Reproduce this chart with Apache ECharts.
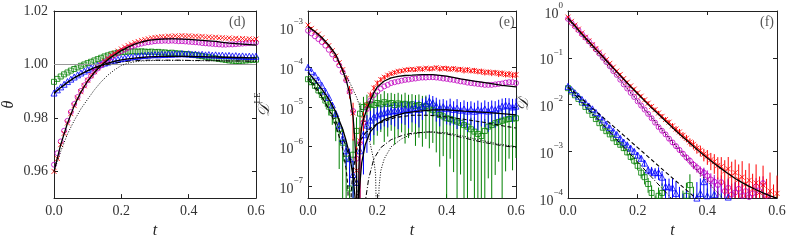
<!DOCTYPE html>
<html><head><meta charset="utf-8">
<script src="https://cdn.jsdelivr.net/npm/echarts@6/dist/echarts.min.js"></script>
<style>html,body{margin:0;padding:0;background:#fff}#c{width:789px;height:244px}</style>
</head><body><div id="c"></div>
<script>
// ---------- time grids ----------
const T = [0,0.01,0.02,0.03,0.04,0.05,0.06,0.07,0.08,0.09,0.10,0.11,0.12,0.13,0.14,0.15,0.16,0.17,0.18,0.19,0.20,0.21,0.22,0.23,0.24,0.25,0.26,0.27,0.28,0.29,0.30,0.31,0.32,0.33,0.34,0.35,0.36,0.37,0.38,0.39,0.40,0.41,0.42,0.43,0.44,0.45,0.46,0.47,0.48,0.49,0.50,0.51,0.52,0.53,0.54,0.55,0.56,0.57,0.58,0.59,0.60];
const T2 = [0,0.02,0.04,0.06,0.08,0.10,0.12,0.14,0.16,0.18,0.20,0.22,0.24,0.26,0.28,0.30,0.32,0.34,0.36,0.38,0.40,0.42,0.44,0.46,0.48,0.50,0.52,0.54,0.56,0.58,0.60];
const xTicks = [0.0,0.2,0.4,0.6];

// ---------- panel (d): theta ----------
const dRed = [0.9600,0.9648,0.9700,0.9742,0.9781,0.9816,0.9846,0.9874,0.9898,0.9920,0.9941,0.9958,0.9973,0.9988,1.0000,1.0012,1.0023,1.0034,1.0042,1.0050,1.0058,1.0065,1.0071,1.0076,1.0082,1.0086,1.0090,1.0093,1.0096,1.0099,1.0101,1.0102,1.0104,1.0103,1.0106,1.0105,1.0107,1.0105,1.0108,1.0106,1.0107,1.0105,1.0106,1.0104,1.0105,1.0102,1.0103,1.0101,1.0102,1.0099,1.0100,1.0098,1.0099,1.0096,1.0098,1.0095,1.0097,1.0094,1.0096,1.0093,1.0095];
const dMag = [0.9625,0.9668,0.9712,0.9752,0.9789,0.9822,0.9852,0.9878,0.9901,0.9922,0.9941,0.9957,0.9972,0.9985,0.9997,1.0008,1.0018,1.0027,1.0035,1.0043,1.0050,1.0056,1.0062,1.0067,1.0071,1.0075,1.0078,1.0081,1.0083,1.0085,1.0087,1.0088,1.0088,1.0089,1.0088,1.0089,1.0088,1.0087,1.0087,1.0086,1.0085,1.0084,1.0083,1.0082,1.0080,1.0079,1.0078,1.0077,1.0076,1.0075,1.0074,1.0074,1.0075,1.0075,1.0076,1.0077,1.0078,1.0079,1.0080,1.0081,1.0082];
const dGreen = [0.9935,0.9946,0.9955,0.9963,0.9970,0.9977,0.9983,0.9989,0.9995,1.0000,1.0005,1.0010,1.0015,1.0020,1.0025,1.0030,1.0034,1.0038,1.0041,1.0044,1.0046,1.0047,1.0048,1.0049,1.0049,1.0048,1.0049,1.0048,1.0047,1.0048,1.0046,1.0047,1.0045,1.0045,1.0043,1.0044,1.0042,1.0041,1.0040,1.0039,1.0038,1.0036,1.0035,1.0033,1.0031,1.0029,1.0027,1.0025,1.0023,1.0021,1.0019,1.0017,1.0015,1.0014,1.0013,1.0013,1.0014,1.0015,1.0016,1.0017,1.0018];
const dBlue = [0.9893,0.9905,0.9916,0.9926,0.9936,0.9945,0.9953,0.9961,0.9968,0.9975,0.9981,0.9987,0.9992,0.9997,1.0001,1.0005,1.0009,1.0013,1.0016,1.0019,1.0022,1.0024,1.0026,1.0028,1.0030,1.0031,1.0033,1.0034,1.0035,1.0036,1.0037,1.0036,1.0038,1.0037,1.0039,1.0038,1.0040,1.0039,1.0041,1.0039,1.0040,1.0038,1.0039,1.0037,1.0038,1.0036,1.0037,1.0035,1.0036,1.0034,1.0035,1.0033,1.0034,1.0032,1.0033,1.0031,1.0032,1.0030,1.0031,1.0030,1.0031];
const dLine1 = [0.9600,0.9700,0.9780,0.9845,0.9897,0.9938,0.9970,0.9996,1.0018,1.0036,1.0052,1.0065,1.0076,1.0084,1.0090,1.0093,1.0095,1.0096,1.0096,1.0095,1.0094,1.0092,1.0090,1.0088,1.0086,1.0083,1.0080,1.0078,1.0076,1.0074,1.0072];
const dLine2 = [0.9893,0.9914,0.9933,0.9950,0.9964,0.9977,0.9988,0.9997,1.0005,1.0012,1.0017,1.0021,1.0024,1.0026,1.0028,1.0029,1.0030,1.0030,1.0030,1.0030,1.0030,1.0029,1.0029,1.0028,1.0028,1.0027,1.0027,1.0026,1.0026,1.0025,1.0025];
const dDashDot = [0.9890,0.9912,0.9932,0.9950,0.9964,0.9976,0.9986,0.9994,1.0000,1.0005,1.0009,1.0012,1.0014,1.0015,1.0016,1.0016,1.0016,1.0016,1.0016,1.0016,1.0015,1.0015,1.0015,1.0014,1.0014,1.0014,1.0013,1.0013,1.0013,1.0012,1.0012];
const dDotted = [0.9600,0.9675,0.9740,0.9790,0.9834,0.9870,0.9905,0.9935,0.9960,0.9980,0.9996,1.0005,1.0010,1.0013,1.0014,1.0015,1.0015,1.0015,1.0015,1.0015,1.0015,1.0014,1.0014,1.0014,1.0014,1.0013,1.0013,1.0013,1.0013,1.0013,1.0012];
const dRef = 1.00;

// ---------- panel (e): D^LE ----------
const eRed = [1.15e-3,9.5e-4,7.9e-4,6.8e-4,5.5e-4,4.4e-4,3.5e-4,2.6e-4,1.9e-4,1.3e-4,8.7e-5,5.2e-5,2.5e-5,7.1e-6,2.5e-7,1.4e-6,5.0e-6,1.1e-5,2.0e-5,3.0e-5,4.0e-5,4.9e-5,5.6e-5,6.3e-5,6.9e-5,7.4e-5,7.9e-5,8.1e-5,8.5e-5,8.7e-5,8.9e-5,8.7e-5,9.3e-5,8.9e-5,9.5e-5,9.1e-5,9.3e-5,9.8e-5,9.1e-5,9.5e-5,9.3e-5,8.9e-5,9.3e-5,8.7e-5,8.9e-5,8.3e-5,8.7e-5,8.1e-5,8.3e-5,7.8e-5,7.9e-5,7.4e-5,7.6e-5,7.2e-5,7.4e-5,6.9e-5,7.1e-5,6.6e-5,6.8e-5,6.3e-5,6.5e-5];
const eRedErr = [0.06,0.06,0.07,0.07,0.07,0.08,0.08,0.09,0.1,0.12,0.15,0.2,0.35,0.8,3,1.2,0.5,0.3,0.22,0.18,0.16,0.15,0.14,0.14,0.13,0.13,0.13,0.12,0.13,0.12,0.13,0.12,0.14,0.13,0.12,0.14,0.13,0.12,0.14,0.13,0.15,0.14,0.13,0.15,0.14,0.16,0.15,0.14,0.16,0.15,0.17,0.16,0.15,0.17,0.16,0.18,0.17,0.16,0.18,0.17,0.18];
const eMag = [8.3e-4,7.1e-4,6.0e-4,5.1e-4,4.3e-4,3.5e-4,2.75e-4,2.1e-4,1.6e-4,1.12e-4,7.6e-5,4.7e-5,2.4e-5,7.9e-6,5.0e-7,1.26e-6,4.0e-6,8.9e-6,1.45e-5,2.0e-5,2.45e-5,2.9e-5,3.3e-5,3.6e-5,4.0e-5,4.2e-5,4.4e-5,4.6e-5,4.8e-5,4.9e-5,5.1e-5,5.2e-5,5.4e-5,5.5e-5,5.5e-5,5.6e-5,5.6e-5,5.5e-5,5.4e-5,5.2e-5,5.1e-5,4.9e-5,4.8e-5,4.6e-5,4.4e-5,4.3e-5,4.1e-5,4.0e-5,3.9e-5,3.8e-5,3.7e-5,3.6e-5,3.6e-5,3.6e-5,3.7e-5,3.8e-5,3.9e-5,4.1e-5,4.2e-5,4.2e-5,4.0e-5];
const eBlue = [1.0e-4,7.9e-5,6.3e-5,4.8e-5,3.5e-5,2.5e-5,1.74e-5,1.12e-5,6.8e-6,3.5e-6,1.6e-6,7.9e-7,5.0e-7,2.0e-7,1.26e-7,7.9e-7,2.0e-6,3.5e-6,4.7e-6,5.6e-6,6.3e-6,6.8e-6,7.2e-6,7.6e-6,7.9e-6,8.1e-6,7.9e-6,8.5e-6,8.9e-6,8.3e-6,9.1e-6,9.5e-6,8.7e-6,1.05e-5,1.2e-5,1.41e-5,1.26e-5,1.07e-5,9.3e-6,1.02e-5,9.1e-6,9.8e-6,8.7e-6,9.3e-6,8.3e-6,8.9e-6,7.9e-6,8.7e-6,7.8e-6,8.5e-6,8.1e-6,8.9e-6,7.9e-6,9.1e-6,8.5e-6,9.5e-6,1.05e-5,1.12e-5,1.07e-5,1.0e-5,1.05e-5];
const eBlueErr = [0.05,0.05,0.06,0.07,0.08,0.1,0.12,0.15,0.2,0.3,0.45,0.6,0.8,1.2,1.5,1.1,0.9,0.8,0.7,0.65,0.6,0.6,0.55,0.6,0.55,0.6,0.65,0.55,0.6,0.65,0.55,0.6,0.65,0.55,0.5,0.45,0.5,0.6,0.65,0.55,0.6,0.65,0.6,0.7,0.6,0.65,0.7,0.6,0.65,0.7,0.6,0.65,0.7,0.6,0.65,0.6,0.55,0.5,0.55,0.6,0.55];
const eGreen = [5.0e-5,4.2e-5,3.4e-5,2.6e-5,2.0e-5,1.45e-5,1.02e-5,7.1e-6,4.6e-6,2.75e-6,1.26e-6,5.0e-7,8.9e-8,6.3e-7,2.5e-6,6.8e-6,1.0e-5,1.1e-5,1.17e-5,1.12e-5,1.26e-5,1.17e-5,1.32e-5,1.2e-5,1.26e-5,1.12e-5,1.23e-5,1.15e-5,1.2e-5,1.1e-5,1.17e-5,1.05e-5,1.12e-5,1.0e-5,1.05e-5,9.1e-6,8.3e-6,7.2e-6,6.3e-6,5.8e-6,5.2e-6,5.0e-6,4.6e-6,4.3e-6,4.0e-6,3.5e-6,3.2e-6,2.75e-6,2.4e-6,2.1e-6,1.86e-6,2.5e-6,3.2e-6,3.5e-6,3.9e-6,4.2e-6,4.5e-6,4.8e-6,5.0e-6,5.1e-6,5.2e-6];
const eGreenErr = [0.12,0.15,0.18,0.2,0.25,0.3,0.4,0.5,0.7,0.9,1.2,1.5,2.5,1.5,1.2,0.9,0.8,0.85,0.8,0.9,0.85,0.8,0.9,0.85,0.8,0.9,0.85,0.8,0.9,0.85,0.8,0.9,0.85,0.9,0.85,0.9,0.85,0.9,0.95,0.9,1.05,0.9,0.95,1.1,0.95,1.0,1.2,0.95,1.3,1.1,1.4,1.0,0.95,1.2,0.95,0.9,1.1,0.95,0.9,0.95,0.9];
const eL1T = [0,0.02,0.04,0.06,0.08,0.10,0.11,0.12,0.13,0.135,0.14,0.143,0.147,0.15,0.155,0.16,0.17,0.18,0.19,0.20,0.22,0.24,0.26,0.28,0.30,0.33,0.36,0.40,0.44,0.48,0.52,0.56,0.60];
const eL1V = [1.05e-3,7.9e-4,5.6e-4,3.6e-4,2.1e-4,8.3e-5,4.8e-5,2.2e-5,5.6e-6,1.58e-6,2.0e-7,1e-9,3.2e-7,1.26e-6,3.2e-6,5.0e-6,8.9e-6,1.48e-5,2.3e-5,3.2e-5,4.5e-5,5.4e-5,5.9e-5,6.2e-5,6.3e-5,6.5e-5,6.5e-5,6.0e-5,5.1e-5,4.5e-5,4.0e-5,3.5e-5,3.2e-5];
const eL2T = [0,0.02,0.04,0.06,0.08,0.10,0.11,0.12,0.13,0.137,0.142,0.147,0.155,0.165,0.18,0.20,0.22,0.25,0.28,0.32,0.36,0.40,0.45,0.50,0.55,0.60];
const eL2V = [7.4e-5,4.7e-5,2.8e-5,1.58e-5,7.6e-6,2.8e-6,1.41e-6,6.3e-7,1.78e-7,4e-8,1e-9,6.3e-8,4e-7,1.12e-6,2.4e-6,3.8e-6,4.8e-6,6.0e-6,7.1e-6,7.9e-6,8.5e-6,8.5e-6,7.9e-6,7.4e-6,6.9e-6,6.3e-6];
const eDashT = [0,0.02,0.04,0.06,0.08,0.10,0.11,0.115,0.12,0.125,0.13,0.14,0.15,0.17,0.20,0.25,0.30,0.35,0.40,0.45,0.50,0.55,0.60];
const eDashV = [5.6e-5,3.4e-5,1.86e-5,8.9e-6,3.5e-6,8.9e-7,2.8e-7,1e-7,1e-9,7.9e-8,2.5e-7,7.9e-7,1.41e-6,2.5e-6,3.8e-6,5.4e-6,6.2e-6,6.2e-6,5.6e-6,4.9e-6,4.2e-6,3.5e-6,2.95e-6];
const eDashDotT = [0,0.04,0.08,0.11,0.13,0.145,0.155,0.165,0.175,0.19,0.21,0.24,0.27,0.30,0.35,0.40,0.45,0.50,0.55,0.60];
const eDashDotV = [5.0e-5,1.78e-5,4.5e-6,1.0e-6,2.5e-7,5.0e-8,1e-9,4.0e-8,1.58e-7,5.0e-7,9.5e-7,1.51e-6,1.9e-6,2.2e-6,2.35e-6,2.1e-6,1.66e-6,1.32e-6,1.1e-6,9.5e-7];
const eDotT = [0,0.02,0.04,0.06,0.08,0.10,0.12,0.14,0.16,0.17,0.18,0.19,0.195,0.2,0.205,0.21,0.22,0.24,0.27,0.30,0.35,0.40,0.45,0.50,0.55,0.60];
const eDotV = [1.05e-3,7.6e-4,5.1e-4,3.2e-4,1.74e-4,8.9e-5,4.2e-5,1.78e-5,5.6e-6,2.8e-6,1.12e-6,4.5e-7,2.0e-7,1e-9,1.0e-7,2.5e-7,5.0e-7,1.0e-6,1.58e-6,2.1e-6,2.4e-6,2.24e-6,1.82e-6,1.45e-6,1.17e-6,1.0e-6];

// ---------- panel (f): D ----------
const fRed = [0.74,0.60,0.50,0.41,0.34,0.275,0.23,0.19,0.158,0.132,0.11,0.091,0.076,0.063,0.052,0.044,0.036,0.030,0.025,0.0214,0.0178,0.0151,0.0126,0.0107,0.0091,0.0078,0.0066,0.0056,0.0048,0.0042,0.0035,0.0030,0.0026,0.0022,0.0019,0.00158,0.00141,0.00117,0.00105,0.00087,0.00079,0.00066,0.0006,0.0005,0.00047,0.00038,0.00042,0.0003,0.00035,0.00025,0.00028,0.0002,0.00024,0.000158,0.00021,0.000132,0.00019,0.000112,0.000141,0.000089,0.000126];
const fRedErr = [0.04,0.04,0.04,0.04,0.04,0.05,0.05,0.05,0.05,0.05,0.05,0.06,0.06,0.06,0.06,0.07,0.07,0.07,0.08,0.08,0.08,0.09,0.09,0.1,0.1,0.1,0.11,0.12,0.12,0.13,0.14,0.15,0.16,0.17,0.18,0.2,0.22,0.24,0.26,0.3,0.35,0.4,0.45,0.5,0.6,0.7,0.8,1.0,0.9,1.1,1.2,1.0,1.3,1.1,1.5,1.2,1.6,1.3,1.5,1.2,1.4];
const fMag = [0.68,0.56,0.47,0.39,0.32,0.27,0.224,0.186,0.151,0.123,0.100,0.081,0.066,0.052,0.043,0.034,0.027,0.022,0.0178,0.0145,0.0117,0.0095,0.0078,0.0063,0.0051,0.0041,0.0033,0.00275,0.0023,0.00186,0.00155,0.00129,0.00107,0.00089,0.00074,0.00063,0.00052,0.00045,0.00038,0.00035,0.0003,0.00025,0.000224,0.00019,0.000219,0.000141,0.000166,0.00012,0.000132,0.000158,0.000112,0.000141,0.000105,0.000126,0.000178,0.000141,0.000209,0.000112,0.00005,0.000063,0.00004];
const fMagErr = [0.03,0.03,0.03,0.03,0.03,0.03,0.03,0.04,0.04,0.04,0.04,0.04,0.05,0.05,0.05,0.05,0.05,0.06,0.06,0.06,0.07,0.07,0.07,0.08,0.08,0.09,0.09,0.1,0.1,0.11,0.12,0.13,0.14,0.15,0.16,0.18,0.2,0.22,0.25,0.28,0.3,0.35,0.4,0.45,0.4,0.6,0.5,0.7,0.6,0.5,0.8,0.6,0.9,0.7,0.5,0.6,0.4,0.8,1.2,1.0,1.3];
const fBlue = [0.0245,0.0209,0.0178,0.0151,0.0129,0.011,0.0093,0.0081,0.0068,0.0056,0.0047,0.0038,0.0032,0.0027,0.0023,0.0019,0.00158,0.00138,0.00117,0.001,0.00083,0.00071,0.00056,0.0004,0.00038,0.00035,0.00035,0.00028,0.000178,0.000174,0.000166,0.000126,0.000079,0.00005,0.000063,0.000032,0.00005,0.0001,0.000126,0.000224,0.000112,0.000063,0.00012,0.00004,0.000079,0.00005,0.000105,0.000032,0.000063,0.000025,0.00005,0.00002,0.000032,0.000016,0.000025,0.0000126,0.00002,0.00001,0.000016,0.00001,0.0000126];
const fBlueErr = [0.04,0.04,0.04,0.05,0.05,0.05,0.05,0.06,0.06,0.06,0.07,0.07,0.08,0.08,0.09,0.1,0.1,0.11,0.12,0.13,0.14,0.15,0.17,0.2,0.22,0.25,0.3,0.35,0.45,0.5,0.6,0.8,1.2,1.5,1.3,2.5,1.5,1.2,1.1,0.9,1.4,2.5,1.3,3.5,1.8,3,1.5,4,2.5,5,3,5,4,6,4,7,5,8,6,8,7];
const fGreen = [0.0224,0.019,0.0158,0.0132,0.011,0.0089,0.0074,0.006,0.0049,0.004,0.0032,0.0027,0.0023,0.0019,0.00158,0.00138,0.00117,0.00095,0.00076,0.00063,0.00049,0.00035,0.00028,0.0002,0.000129,0.000063,0.000112,0.000129,0.00004,0.000025,0.00005,0.000016,0.000032,0.000063,0.000112,0.00019,0.00005,0.000025,0.00004,0.000016,0.000032,0.0000126,0.000025,0.00002,0.0000126,0.000032,0.00001,0.000025,0.000016,0.00001,0.00002,0.0000126,0.000016,0.00001,0.00002,0.0000126,0.000025,0.00001,0.000016,0.0000126,0.00001];
const fGreenErr = [0.05,0.05,0.05,0.05,0.06,0.06,0.06,0.07,0.07,0.08,0.08,0.09,0.1,0.1,0.11,0.12,0.13,0.14,0.16,0.18,0.2,0.25,0.3,0.35,0.45,0.8,0.5,0.6,1.5,2,1.3,3,2,1.3,0.9,0.7,2.5,4,3,6,4,8,5,6,9,4,10,5,7,12,6,9,8,12,7,10,6,12,8,10,12];
const fLine = [0.71,0.48,0.32,0.22,0.151,0.105,0.072,0.050,0.0347,0.024,0.017,0.012,0.0085,0.0062,0.00447,0.00324,0.00234,0.00174,0.00129,0.00095,0.00072,0.00055,0.000427,0.000331,0.000263,0.000214,0.000178,0.000151,0.000129,0.000112,0.0001];
const fDotT = [0,0.02,0.04,0.06,0.08,0.10,0.12,0.14,0.16,0.18,0.20,0.22,0.24,0.26,0.28,0.30,0.32,0.34,0.36,0.38,0.40,0.42,0.44,0.46];
const fDotV = [0.66,0.447,0.302,0.2,0.135,0.091,0.06,0.041,0.0269,0.0182,0.012,0.0079,0.0054,0.00355,0.0024,0.00158,0.00107,0.00072,0.00049,0.00033,0.00023,0.000155,0.000107,0.000072];
const fDashT = [0,0.04,0.08,0.12,0.16,0.20,0.24,0.28,0.32,0.36,0.40];
const fDashV = [0.024,0.0132,0.0072,0.004,0.0022,0.0012,0.00066,0.00036,0.0002,0.00011,0.00006];
const fDashDotT = [0,0.04,0.08,0.12,0.16,0.20,0.24,0.28,0.32];
const fDashDotV = [0.0234,0.0112,0.0054,0.0026,0.00123,0.00059,0.00028,0.000135,0.000065];

// ---------- styling ----------
const SERIF = '"Liberation Serif","DejaVu Serif",serif';
const RED = '#ff0000', MAG = '#bf00bf', GRN = '#008000', BLU = '#0000ff';
const CROSS = 'path://M0,0L10,10M10,0L0,10';
const YR = [
  {min:0.95, max:1.02},
  {min:5.1e-8, max:2.6e-3},
  {min:1e-4, max:1}
];
const DASH = [4,2.5], DOT = [1,1.6], DASHDOT = [5,2,1,2];

function pairs(t, v){ return t.map((x,i)=>[x, v[i]]); }
function sc(p, t, v, sym, color, size){
  return {type:'scatter', xAxisIndex:2*p, yAxisIndex:2*p, data:pairs(t,v), symbol:sym, symbolSize:size,
    itemStyle:{color:'rgba(0,0,0,0)', borderColor:color, borderWidth:1}, z:3, silent:true, animation:false, clip:true};
}
function ln(p, t, v, type, w){
  return {type:'line', xAxisIndex:2*p, yAxisIndex:2*p, data:pairs(t,v), symbol:'none', showSymbol:false,
    lineStyle:{color:'#000', width:w||1.2, type:type||'solid'}, z:5, silent:true, animation:false, clip:true};
}
function eb(p, t, v, r, color){
  const ymin = YR[p].min, ymax = YR[p].max;
  return {type:'custom', xAxisIndex:2*p, yAxisIndex:2*p, data:t.map((x,i)=>[x, v[i], r[i]]),
    renderItem:function(params, api){
      const x = api.value(0), y = api.value(1), r = api.value(2);
      let lo = y*(1-r), hi = y*(1+r);
      if (!(lo > ymin)) lo = ymin;
      if (hi > ymax) hi = ymax;
      if (hi <= ymin) return null;
      const a = api.coord([x, lo]), b = api.coord([x, hi]);
      return {type:'line', shape:{x1:a[0], y1:a[1], x2:b[0], y2:b[1]}, style:{stroke:color, lineWidth:1}};
    }, z:2, silent:true, animation:false};
}

const axLine = {show:true, onZero:false, lineStyle:{color:'#222', width:1}};
const tick = {show:true, inside:true, length:4, lineStyle:{color:'#222', width:1}};
const labelStyle = {fontFamily:SERIF, fontSize:14, color:'#333'};
const supRich = {
  b:{fontFamily:SERIF, fontSize:14, color:'#333', lineHeight:20, verticalAlign:'bottom'},
  s:{fontFamily:SERIF, fontSize:9, color:'#333', lineHeight:10, verticalAlign:'top'}
};
function logFmt(v){
  const e = Math.round(Math.log10(v));
  return '{b|10}{s|' + (e<0?'\u2212':'') + Math.abs(e) + '}';
}

const grids = [
  {left:49, top:11, width:207, height:196},
  {left:308, top:11, width:208, height:196},
  {left:568, top:11, width:209, height:196}
];
const xAxis = [], yAxis = [];
for (let p=0; p<3; p++){
  xAxis.push({type:'value', gridIndex:p, min:xTicks[0], max:xTicks[xTicks.length-1], interval:0.2, position:'bottom',
    axisLine:axLine, axisTick:tick, splitLine:{show:false},
    axisLabel:Object.assign({margin:6, formatter:v=>v.toFixed(1)}, labelStyle),
    name:'t', nameLocation:'middle', nameGap:23,
    nameTextStyle:{fontFamily:SERIF, fontStyle:'italic', fontSize:16, color:'#222'}});
  xAxis.push({type:'value', gridIndex:p, min:xTicks[0], max:xTicks[xTicks.length-1], interval:0.2, position:'top',
    axisLine:axLine, axisTick:tick, splitLine:{show:false}, axisLabel:{show:false}});
}
// (d)
yAxis.push({type:'value', gridIndex:0, min:YR[0].min, max:YR[0].max, splitNumber:4, position:'left',
  axisLine:axLine, axisTick:tick, splitLine:{show:false},
  axisLabel:Object.assign({margin:6, showMinLabel:false, formatter:v=>v.toFixed(2)}, labelStyle),
  name:'θ', nameLocation:'middle', nameGap:37, nameRotate:90,
  nameTextStyle:{fontFamily:SERIF, fontStyle:'italic', fontSize:16, color:'#222'}});
yAxis.push({type:'value', gridIndex:0, min:YR[0].min, max:YR[0].max, splitNumber:4, position:'right',
  axisLine:axLine, axisTick:tick, splitLine:{show:false}, axisLabel:{show:false}});
// (e)
yAxis.push({type:'log', logBase:10, gridIndex:1, min:YR[1].min, max:YR[1].max, position:'left',
  axisLine:axLine, axisTick:tick, splitLine:{show:false},
  axisLabel:{margin:5, showMinLabel:false, showMaxLabel:false, formatter:logFmt, rich:supRich},
  name:'{a|𝒟}{s|LE}', nameLocation:'middle', nameGap:35, nameRotate:90,
  nameTextStyle:{rich:{a:{fontFamily:SERIF, fontSize:16, fontStyle:'italic', color:'#222', lineHeight:20, verticalAlign:'bottom'}, s:{fontFamily:SERIF, fontSize:9, color:'#222', lineHeight:10, verticalAlign:'top'}}}});
yAxis.push({type:'log', logBase:10, gridIndex:1, min:YR[1].min, max:YR[1].max, position:'right',
  axisLine:axLine, axisTick:tick, splitLine:{show:false}, axisLabel:{show:false}});
// (f)
yAxis.push({type:'log', logBase:10, gridIndex:2, min:YR[2].min, max:YR[2].max, position:'left',
  axisLine:axLine, axisTick:tick, splitLine:{show:false},
  axisLabel:{margin:5, formatter:logFmt, rich:supRich},
  name:'𝒟', nameLocation:'middle', nameGap:36, nameRotate:90,
  nameTextStyle:{fontFamily:SERIF, fontStyle:'italic', fontSize:16, color:'#222'}});
yAxis.push({type:'log', logBase:10, gridIndex:2, min:YR[2].min, max:YR[2].max, position:'right',
  axisLine:axLine, axisTick:tick, splitLine:{show:false}, axisLabel:{show:false}});

const series = [];
// (d)
const refLine = sc(0, T, dGreen, 'rect', GRN, 5);
refLine.markLine = {silent:true, symbol:'none', label:{show:false}, animation:false,
  lineStyle:{color:'#999', type:'solid', width:1}, data:[{yAxis:dRef}]};
series.push(refLine);
series.push(sc(0, T, dBlue, 'triangle', BLU, 6));
series.push(sc(0, T, dMag, 'circle', MAG, 5));
series.push(sc(0, T, dRed, CROSS, RED, 5));
series.push(ln(0, T2, dDotted, DOT, 1));
series.push(ln(0, T2, dDashDot, DASHDOT, 1));
series.push(ln(0, T2, dLine2, 'solid', 1.3));
series.push(ln(0, T2, dLine1, 'solid', 1.3));
// (e)
series.push(eb(1, T, eGreen, eGreenErr, GRN));
series.push(eb(1, T, eBlue, eBlueErr, BLU));
series.push(eb(1, T, eRed, eRedErr, RED));
series.push(sc(1, T, eGreen, 'rect', GRN, 5));
series.push(sc(1, T, eBlue, 'triangle', BLU, 6));
series.push(sc(1, T, eMag, 'circle', MAG, 5));
series.push(sc(1, T, eRed, CROSS, RED, 5));
series.push(ln(1, eDotT, eDotV, DOT, 1));
series.push(ln(1, eDashDotT, eDashDotV, DASHDOT, 1));
series.push(ln(1, eDashT, eDashV, DASH, 1.1));
series.push(ln(1, eL2T, eL2V, 'solid', 1.3));
series.push(ln(1, eL1T, eL1V, 'solid', 1.3));
// (f)
series.push(eb(2, T, fGreen, fGreenErr, GRN));
series.push(eb(2, T, fBlue, fBlueErr, BLU));
series.push(eb(2, T, fMag, fMagErr, MAG));
series.push(eb(2, T, fRed, fRedErr, RED));
series.push(sc(2, T, fGreen, 'rect', GRN, 5));
series.push(sc(2, T, fBlue, 'triangle', BLU, 6));
series.push(sc(2, T, fMag, 'circle', MAG, 5));
series.push(sc(2, T, fRed, CROSS, RED, 5));
series.push(ln(2, fDotT, fDotV, DOT, 1));
series.push(ln(2, fDashDotT, fDashDotV, DASHDOT, 1));
series.push(ln(2, fDashT, fDashV, DASH, 1.1));
series.push(ln(2, T2, fLine, 'solid', 1.3));

const panelLabels = [['(d)', 229, 15], ['(e)', 499, 15], ['(f)', 760, 15]];
const chart = echarts.init(document.getElementById('c'), null, {renderer:'canvas'});
chart.setOption({
  animation:false,
  backgroundColor:'#fff',
  grid:grids, xAxis:xAxis, yAxis:yAxis, series:series,
  graphic: panelLabels.map(l=>({type:'text', left:l[1], top:l[2], silent:true,
    style:{text:l[0], font:'14px ' + SERIF, fill:'#555'}}))
});
</script></body></html>
